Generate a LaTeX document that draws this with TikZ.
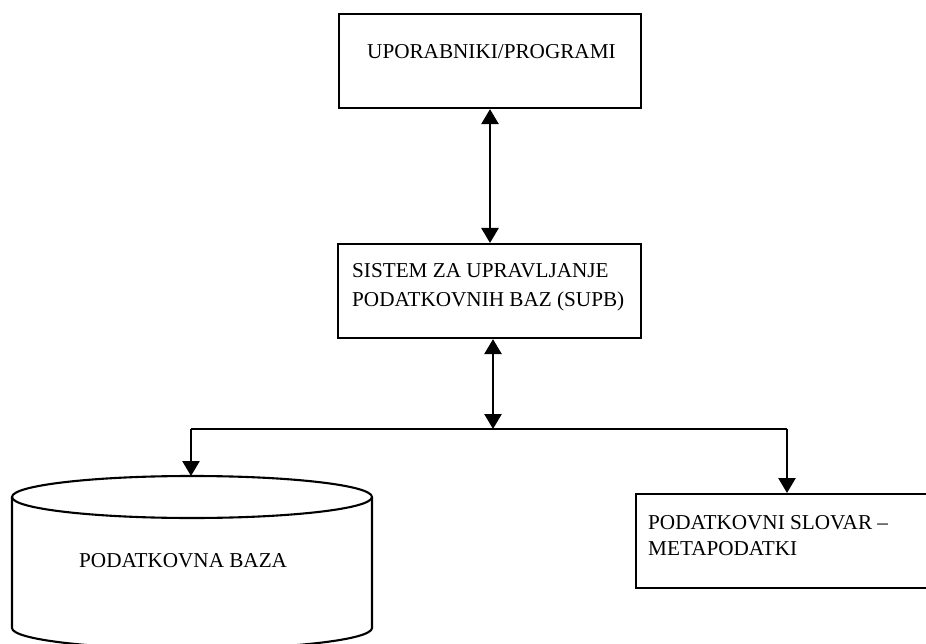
\documentclass[tikz,border=0pt]{standalone}
\usepackage{fontspec}
\setmainfont{Liberation Serif}
\usetikzlibrary{arrows.meta}
\begin{document}
\begin{tikzpicture}[x=1pt,y=-1pt,
  box/.style={draw, line width=2.1pt, inner sep=0pt, anchor=north west},
  lbl/.style={anchor=base west, inner sep=0pt, font=\fontsize{21.2}{27}\selectfont},
  conn/.style={line width=2.6pt},
  tip/.style={-{Triangle[length=15pt,width=17pt]}},
  dtip/.style={{Triangle[length=15pt,width=17pt]}-{Triangle[length=15pt,width=17pt]}}]
\useasboundingbox (0,0) rectangle (926,644);
\begin{scope}
\clip (0,0) rectangle (926,644);
% boxes
\node[box, minimum width=302pt, minimum height=94pt] (users) at (338,13) {};
\node[box, minimum width=303pt, minimum height=94pt] (supb) at (337,243) {};
\node[box, minimum width=320pt, minimum height=94pt] (dict) at (635,493) {};
% labels
\node[lbl] (usersT) at (367,59) {UPORABNIKI/PROGRAMI};
\node[lbl] (supbT1) at (352,278) {SISTEM ZA UPRAVLJANJE};
\node[lbl] (supbT2) at (352,306) {PODATKOVNIH BAZ (SUPB)};
\node[lbl] (dictT1) at (648,529) {PODATKOVNI SLOVAR –};
\node[lbl] (dictT2) at (648,555) {METAPODATKI};
% cylinder
\draw[line width=2.1pt] (12,497) -- (12,628) arc[start angle=180,end angle=360,x radius=180,y radius=-21] -- (372,497);
\draw[line width=2.1pt] (192,497) ellipse [x radius=180, y radius=21];
\coordinate (dbtop) at (191,476);
\node[lbl] (dbT) at (79,567) {PODATKOVNA BAZA};
% connectors
\coordinate (j) at (493,429);
\coordinate (jl) at (191,429);
\coordinate (jr) at (787,429);
\draw[conn, dtip] (users.south -| 490,0) -- (supb.north -| 490,0);
\draw[conn, dtip] (supb.south -| j) -- (j);
\draw[conn] (jl) -- (jr);
\draw[conn, tip] (jl) -- (dbtop);
\draw[conn, tip] (jr) -- (dict.north -| jr);
\end{scope}
\end{tikzpicture}
\end{document}
